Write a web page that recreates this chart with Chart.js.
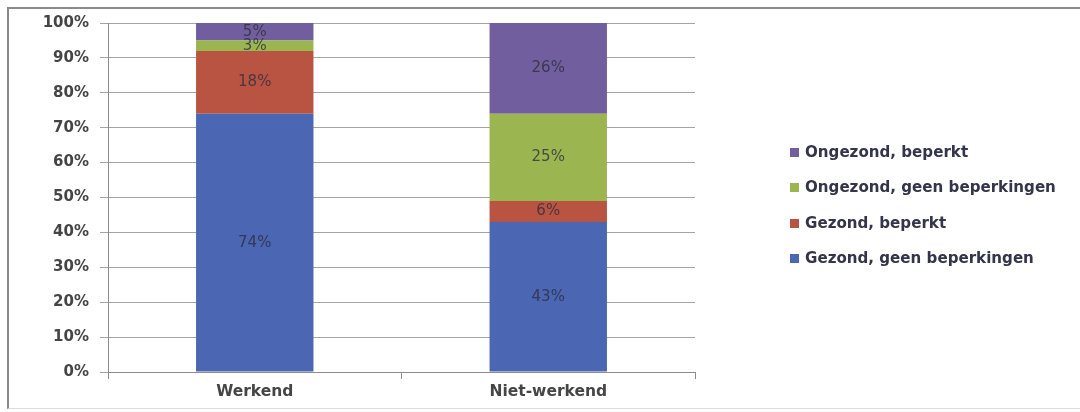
<!DOCTYPE html>
<html>
<head>
<meta charset="utf-8">
<script src="https://cdn.jsdelivr.net/npm/chart.js@4/dist/chart.umd.min.js"></script>
<style>
  html, body { margin: 0; padding: 0; background: #fff; }
  #wrap { position: relative; width: 1080px; height: 412px; overflow: hidden; }
  #frame { position: absolute; left: 7px; top: 7px; width: 1090px; height: 402px;
           border-left: 2px solid #8a8a8a; border-top: 2px solid #8a8a8a; border-bottom: 1px solid #dcdcdc; box-sizing: border-box; }
  #c { position: absolute; left: 0; top: 0; }
  #legend { position: absolute; left: 790px; top: 143px; font-family: "DejaVu Sans", sans-serif;
            font-weight: bold; font-size: 15.1px; color: #34344a; }
  .li { height: 35.3px; display: flex; align-items: flex-start; white-space: nowrap; }
  .sw { width: 9px; height: 9px; margin-right: 6px; margin-top: 5px; }
</style>
</head>
<body>
<div id="wrap">
  <div id="frame"></div>
  <canvas id="c" width="1080" height="412"></canvas>
  <div id="legend"></div>
</div>
<script>
const categories = ["Werkend", "Niet-werkend"];
const seriesNames = ["Gezond, geen beperkingen", "Gezond, beperkt", "Ongezond, geen beperkingen", "Ongezond, beperkt"];
const gezondGeen = [74, 43];
const gezondBeperkt = [18, 6];
const ongezondGeen = [3, 25];
const ongezondBeperkt = [5, 26];
const yTicks = [0, 10, 20, 30, 40, 50, 60, 70, 80, 90, 100];
const colors = ["#4B66B2", "#BA5442", "#9BB651", "#705E9E"];

const seriesValues = [gezondGeen, gezondBeperkt, ongezondGeen, ongezondBeperkt];
const FONT = '"DejaVu Sans", sans-serif';

const labelPlugin = {
  id: 'barLabels',
  afterDatasetsDraw(chart) {
    const ctx = chart.ctx;
    ctx.save();
    ctx.font = '15px ' + FONT;
    ctx.fillStyle = 'rgba(45,45,60,0.78)';
    ctx.textAlign = 'center';
    ctx.textBaseline = 'middle';
    chart.data.datasets.forEach((ds, i) => {
      const meta = chart.getDatasetMeta(i);
      meta.data.forEach((el, j) => {
        const p = el.getCenterPoint();
        ctx.fillText(ds.data[j] + '%', p.x, p.y);
      });
    });
    ctx.restore();
  }
};

new Chart(document.getElementById('c'), {
  type: 'bar',
  data: {
    labels: categories,
    datasets: seriesNames.map((n, i) => ({
      label: n,
      data: seriesValues[i],
      backgroundColor: colors[i],
      borderWidth: 0,
      categoryPercentage: 1,
      barPercentage: 0.4
    }))
  },
  options: {
    responsive: false,
    animation: false,
    devicePixelRatio: 1,
    layout: { padding: { left: 0, right: 385, top: 23, bottom: 0 } },
    plugins: { legend: { display: false }, tooltip: { enabled: false } },
    scales: {
      x: {
        stacked: true,
        grid: { offset: true, drawOnChartArea: false, drawTicks: true, tickLength: 7, color: '#8c8c8c' },
        border: { color: '#8c8c8c', width: 1 },
        ticks: { font: { family: FONT, size: 15.5, weight: 'bold' }, color: '#454545', padding: 4 },
        afterFit(s) { s.height = 40; }
      },
      y: {
        stacked: true,
        min: 0, max: 100,
        afterBuildTicks(s) { s.ticks = yTicks.map(v => ({ value: v })); },
        grid: { color: '#a4a4a4', tickLength: 8, drawTicks: true },
        border: { color: '#8c8c8c', width: 1 },
        ticks: { font: { family: FONT, size: 15, weight: 'bold' }, color: '#454545', padding: 11,
                 callback: v => v + '%' },
        afterFit(s) { s.width = 108; }
      }
    }
  },
  plugins: [labelPlugin]
});

const leg = document.getElementById('legend');
for (let i = seriesNames.length - 1; i >= 0; i--) {
  const d = document.createElement('div');
  d.className = 'li';
  const sw = document.createElement('div');
  sw.className = 'sw';
  sw.style.background = colors[i];
  const t = document.createElement('span');
  t.textContent = seriesNames[i];
  d.appendChild(sw); d.appendChild(t);
  leg.appendChild(d);
}
</script>
</body>
</html>
